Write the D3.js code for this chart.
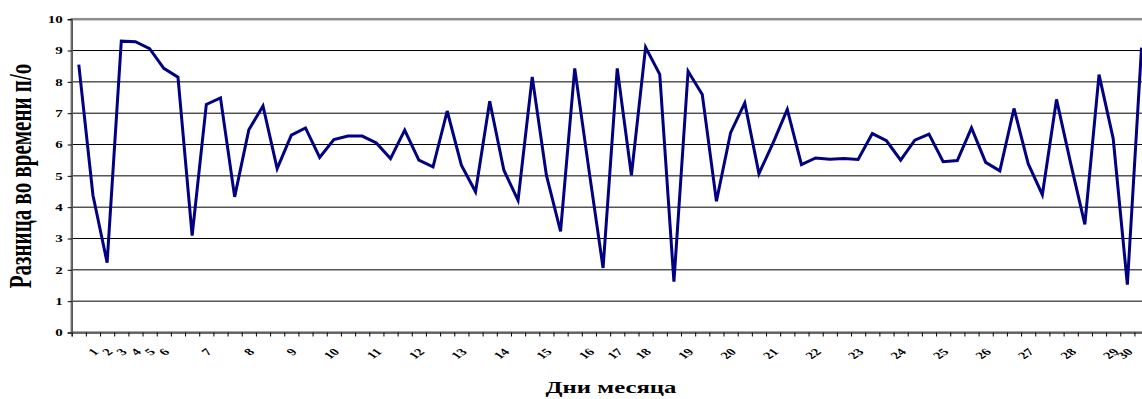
<!DOCTYPE html>
<html>
<head>
<meta charset="utf-8">
<script src="https://cdn.jsdelivr.net/npm/d3@7"></script>
<style>
  html, body { margin: 0; padding: 0; background: #fff; overflow: hidden; }
  svg { display: block; }
  text { font-family: "Liberation Serif", "Times New Roman", serif; font-weight: bold; fill: #000; }
</style>
</head>
<body>
<svg id="chart" width="1142" height="399"></svg>
<script>
// Time difference per measurement, in order across the month
const values = [
  8.55, 4.38, 2.23, 9.30, 9.28, 9.06, 8.43, 8.15, 3.09, 7.28,
  7.49, 4.33, 6.47, 7.23, 5.23, 6.30, 6.53, 5.59, 6.16, 6.27,
  6.27, 6.05, 5.55, 6.46, 5.50, 5.29, 7.07, 5.34, 4.49, 7.38,
  5.18, 4.22, 8.16, 5.02, 3.23, 8.43, 5.20, 2.06, 8.43, 5.02,
  9.10, 8.24, 1.62, 8.34, 7.60, 4.19, 6.38, 7.33, 5.07, 6.05,
  7.12, 5.36, 5.57, 5.53, 5.55, 5.52, 6.35, 6.12, 5.50, 6.14,
  6.33, 5.45, 5.49, 6.53, 5.43, 5.16, 7.15, 5.39, 4.40, 7.44,
  5.40, 3.45, 8.23, 6.19, 1.53, 9.09
];

// Day-of-month label shown under each category (blank where none)
const dayLabels = [
  "", "1", "2", "3", "4", "5", "6", "", "", "7",
  "", "", "8", "", "", "9", "", "", "10", "",
  "", "11", "", "", "12", "", "", "13", "", "",
  "14", "", "", "15", "", "", "16", "", "17", "",
  "18", "", "", "19", "", "", "20", "", "", "21",
  "", "", "22", "", "", "23", "", "", "24", "",
  "", "25", "", "", "26", "", "", "27", "", "",
  "28", "", "", "29", "30", ""
];

const yTicks = [0, 1, 2, 3, 4, 5, 6, 7, 8, 9, 10];

const yTitle = "Разница во времени п/о";
const xTitle = "Дни месяца";

// Chart text is drawn wider than tall
const stretch = 1.5;

const svg = d3.select("#chart");

const plot = { left: 71.7, top: 19.2, bottom: 332.5, step: 14.17 };
plot.right = plot.left + plot.step * values.length;

const x = d3.scaleLinear().domain([0, values.length]).range([plot.left, plot.right]);
const y = d3.scaleLinear().domain([0, 10]).range([plot.bottom, plot.top]);

// Plot area frame
svg.append("rect")
  .attr("x", plot.left).attr("y", plot.top)
  .attr("width", plot.right - plot.left).attr("height", plot.bottom - plot.top)
  .attr("fill", "#fff").attr("stroke", "#8c8c8c").attr("stroke-width", 2.5);

// Horizontal gridlines
svg.append("g")
  .selectAll("line")
  .data(yTicks.filter(d => d > 0 && d < 10))
  .join("line")
  .attr("x1", plot.left).attr("x2", plot.right)
  .attr("y1", d => y(d)).attr("y2", d => y(d))
  .attr("stroke", "#000").attr("stroke-width", 1);

// Y axis
const yAxis = svg.append("g")
  .attr("transform", `translate(${plot.left},0)`)
  .call(d3.axisLeft(y).tickValues(yTicks).tickSize(4).tickFormat(""));
yAxis.select(".domain").attr("stroke", "#555").attr("stroke-width", 1.5);
yAxis.selectAll(".tick line").attr("stroke", "#000");
yAxis.selectAll(".tick").append("text")
  .attr("transform", `translate(-9,0) scale(${stretch},1)`)
  .attr("text-anchor", "end")
  .attr("dy", "0.34em")
  .attr("font-size", 10)
  .text(d => d);

// X axis tick marks on category boundaries
const xTicks = svg.append("g")
  .attr("transform", `translate(0,${plot.bottom})`)
  .call(d3.axisBottom(x).tickValues(d3.range(0, values.length + 1)).tickSize(4).tickFormat(""));
xTicks.select(".domain").attr("stroke", "#555").attr("stroke-width", 1.5);
xTicks.selectAll(".tick line").attr("stroke", "#000");

// X category labels, slanted
const xLabels = svg.append("g")
  .attr("transform", `translate(0,${plot.bottom})`)
  .call(d3.axisBottom(x)
    .tickValues(d3.range(values.length).map(i => i + 0.5))
    .tickSize(0)
    .tickFormat(""));
xLabels.select(".domain").remove();
xLabels.selectAll(".tick").append("text")
  .attr("text-anchor", "end")
  .attr("font-size", 10)
  .attr("transform", `translate(6,20) scale(${stretch},1) rotate(-45)`)
  .text(d => dayLabels[Math.floor(d)]);

// Data line
const line = d3.line()
  .x((d, i) => x(i + 0.5))
  .y(d => y(d));

svg.append("path")
  .datum(values)
  .attr("d", line)
  .attr("fill", "none")
  .attr("stroke", "#000080")
  .attr("stroke-width", 3)
  .attr("stroke-linejoin", "miter");

// Axis titles
svg.append("text")
  .attr("transform", `translate(31,176) scale(${stretch},1) rotate(-90)`)
  .attr("text-anchor", "middle")
  .attr("font-size", 21)
  .text(yTitle);

svg.append("text")
  .attr("transform", `translate(611,393) scale(${stretch},1)`)
  .attr("text-anchor", "middle")
  .attr("font-size", 16.5)
  .text(xTitle);
</script>
</body>
</html>
